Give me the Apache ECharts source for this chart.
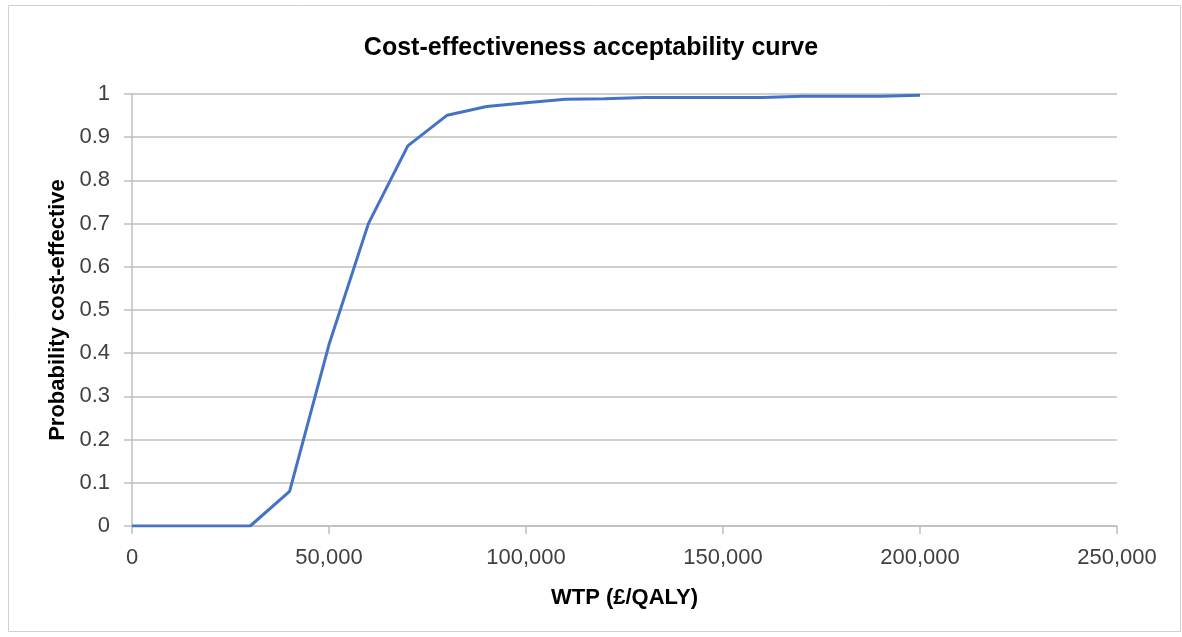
<!DOCTYPE html>
<html>
<head>
<meta charset="utf-8">
<script src="https://cdn.jsdelivr.net/npm/echarts@6/dist/echarts.min.js"></script>
<style>html,body{margin:0;padding:0;background:#fff}#c{width:1182px;height:637px}</style>
</head>
<body>
<div id="c"></div>
<script>
const wtp = [0,10000,20000,30000,40000,50000,60000,70000,80000,90000,100000,110000,120000,130000,140000,150000,160000,170000,180000,190000,200000];
const prob = [0,0,0,0,0.08,0.42,0.70,0.88,0.951,0.971,0.98,0.988,0.989,0.992,0.992,0.992,0.992,0.995,0.995,0.995,0.997];
const titleText = 'Cost-effectiveness acceptability curve';
const xName = 'WTP (£/QALY)';
const yName = 'Probability cost-effective';

const chart = echarts.init(document.getElementById('c'), null, {renderer:'canvas'});
const font = 'Liberation Sans, Arial, sans-serif';
chart.setOption({
  animation:false,
  backgroundColor:'#fff',
  graphic:[{type:'rect',shape:{x:8.5,y:5.5,width:1172,height:626},style:{fill:'none',stroke:'#d0d0d0',lineWidth:1},silent:true}],
  title:{text:titleText,left:'center',top:31,textStyle:{fontFamily:font,fontWeight:'bold',fontSize:25,color:'#000'}},
  grid:{left:132,right:65,top:94,bottom:111},
  xAxis:{type:'value',min:0,max:250000,interval:50000,
    name:xName,nameLocation:'middle',nameGap:61,
    nameTextStyle:{fontFamily:font,fontWeight:'bold',fontSize:22,color:'#000'},
    axisLine:{show:true,lineStyle:{color:'#bfbfbf',width:1.5}},
    axisTick:{show:true,length:8,lineStyle:{color:'#bfbfbf',width:1.5}},
    splitLine:{show:false},
    axisLabel:{fontFamily:font,fontSize:22,color:'#404040',margin:21,
      formatter:v=>v.toLocaleString('en-US')}},
  yAxis:{type:'value',min:0,max:1,interval:0.1,
    name:yName,nameLocation:'middle',nameGap:63,
    nameTextStyle:{fontFamily:font,fontWeight:'bold',fontSize:22,color:'#000'},
    axisLine:{show:true,lineStyle:{color:'#bfbfbf',width:1.5}},
    axisTick:{show:true,length:8,lineStyle:{color:'#bfbfbf',width:1.5}},
    splitLine:{show:true,lineStyle:{color:'#bfbfbf',width:1.5}},
    axisLabel:{fontFamily:font,fontSize:22,color:'#404040',margin:22,
      formatter:v=>String(Math.round(v*10)/10)}},
  series:[{type:'line',data:wtp.map((x,i)=>[x,prob[i]]),showSymbol:false,
    lineStyle:{color:'#4472C4',width:3},itemStyle:{color:'#4472C4'}}]
});
</script>
</body>
</html>
